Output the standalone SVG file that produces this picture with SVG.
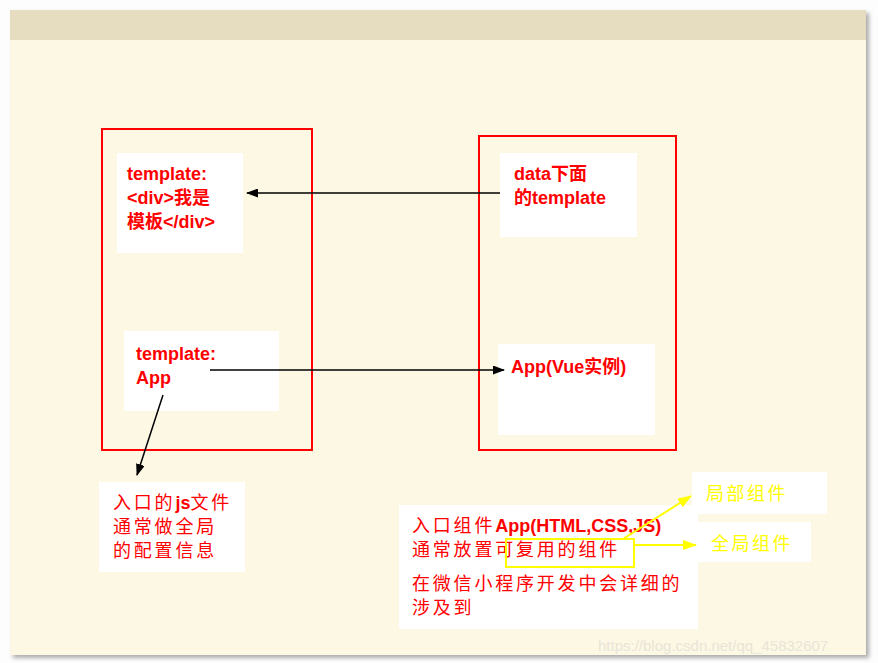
<svg xmlns="http://www.w3.org/2000/svg" width="878" height="663" viewBox="0 0 878 663">
<defs>
<marker id="ab" markerWidth="12" markerHeight="9" refX="11" refY="4.5" orient="auto" markerUnits="userSpaceOnUse"><path d="M0,0 L12,4.5 L0,9 z" fill="#000"/></marker>
<marker id="ay" markerWidth="14" markerHeight="10" refX="13" refY="5" orient="auto" markerUnits="userSpaceOnUse"><path d="M0,0 L14,5 L0,10 z" fill="#ffff00"/></marker>
<filter id="sh" x="-5%" y="-5%" width="110%" height="110%"><feDropShadow dx="3" dy="3" stdDeviation="2" flood-color="#888" flood-opacity="0.7"/></filter>
</defs>
<style>
.t{font-family:"Liberation Sans","Noto Sans CJK SC",sans-serif;font-size:18px;fill:#ff0000}
.s{letter-spacing:2.8px}
.b{font-weight:bold}
.n{letter-spacing:0}
.y{font-family:"Noto Sans CJK SC",sans-serif;font-size:18px;fill:#ffff00;letter-spacing:2.5px}
.box{fill:none;stroke:#ff0000;stroke-width:2}
.w{fill:#ffffff}
.ln{stroke:#000;stroke-width:1.5;fill:none}
.yl{stroke:#ffff00;stroke-width:2;fill:none}
</style>
<rect width="878" height="663" fill="#fdfdfd"/>
<rect x="10" y="10" width="856" height="645" fill="#fdf8e4" filter="url(#sh)"/>
<rect x="10" y="10" width="856" height="30" fill="#e6dcc0"/>
<g id="leftFrame"><rect class="box" x="102" y="129" width="210" height="321"/></g>
<g id="rightFrame"><rect class="box" x="479" y="136" width="197" height="314"/></g>
<g id="tplDiv"><rect class="w" x="117" y="153" width="126" height="100"/>
<text class="t b" x="127" y="180">template:</text>
<text class="t b" x="127" y="204">&lt;div&gt;我是</text>
<text class="t b" x="127" y="228">模板&lt;/div&gt;</text></g>
<g id="dataTpl"><rect class="w" x="500" y="153" width="137" height="84"/>
<text class="t b" x="514" y="180">data下面</text>
<text class="t b" x="514" y="204">的template</text></g>
<g id="tplApp"><rect class="w" x="124" y="331" width="155" height="80"/>
<text class="t b" x="136" y="360">template:</text>
<text class="t b" x="136" y="384">App</text></g>
<g id="vueApp"><rect class="w" x="498" y="344" width="157" height="91"/>
<text class="t b" x="511" y="373">App(Vue实例)</text></g>
<g id="entryJs"><rect class="w" x="99" y="482" width="146" height="90"/>
<text class="t s" x="113" y="509">入口的<tspan class="b n">js</tspan>文件</text>
<text class="t s" x="113" y="533">通常做全局</text>
<text class="t s" x="113" y="557">的配置信息</text></g>
<g id="entryApp"><rect class="w" x="399" y="505" width="299" height="124"/>
<text class="t s" x="412" y="532">入口组件<tspan class="b n">App(HTML,CSS,JS)</tspan></text>
<text class="t s" x="412" y="556">通常放置可复用的组件</text>
<text class="t s" x="412" y="590">在微信小程序开发中会详细的</text>
<text class="t s" x="412" y="614">涉及到</text></g>
<g id="local"><rect class="w" x="692" y="472" width="135" height="42"/>
<text class="y" x="706" y="500">局部组件</text></g>
<g id="global"><rect class="w" x="697" y="522" width="114" height="40"/>
<text class="y" x="711" y="550">全局组件</text></g>
<g id="connectors">
<line class="ln" x1="500" y1="193" x2="247" y2="193" marker-end="url(#ab)"/>
<line class="ln" x1="210" y1="370" x2="504" y2="370" marker-end="url(#ab)"/>
<line class="ln" x1="163" y1="395" x2="137" y2="475" marker-end="url(#ab)"/>
<rect class="yl" x="506" y="539" width="128" height="28"/>
<line class="yl" x1="623" y1="539" x2="691" y2="496" marker-end="url(#ay)"/>
<line class="yl" x1="634" y1="545" x2="696" y2="545" marker-end="url(#ay)"/>
</g>
<text x="598" y="651" font-family="Liberation Sans,sans-serif" font-size="15" fill="#e8e4d8">https://blog.csdn.net/qq_45832607</text>
</svg>
